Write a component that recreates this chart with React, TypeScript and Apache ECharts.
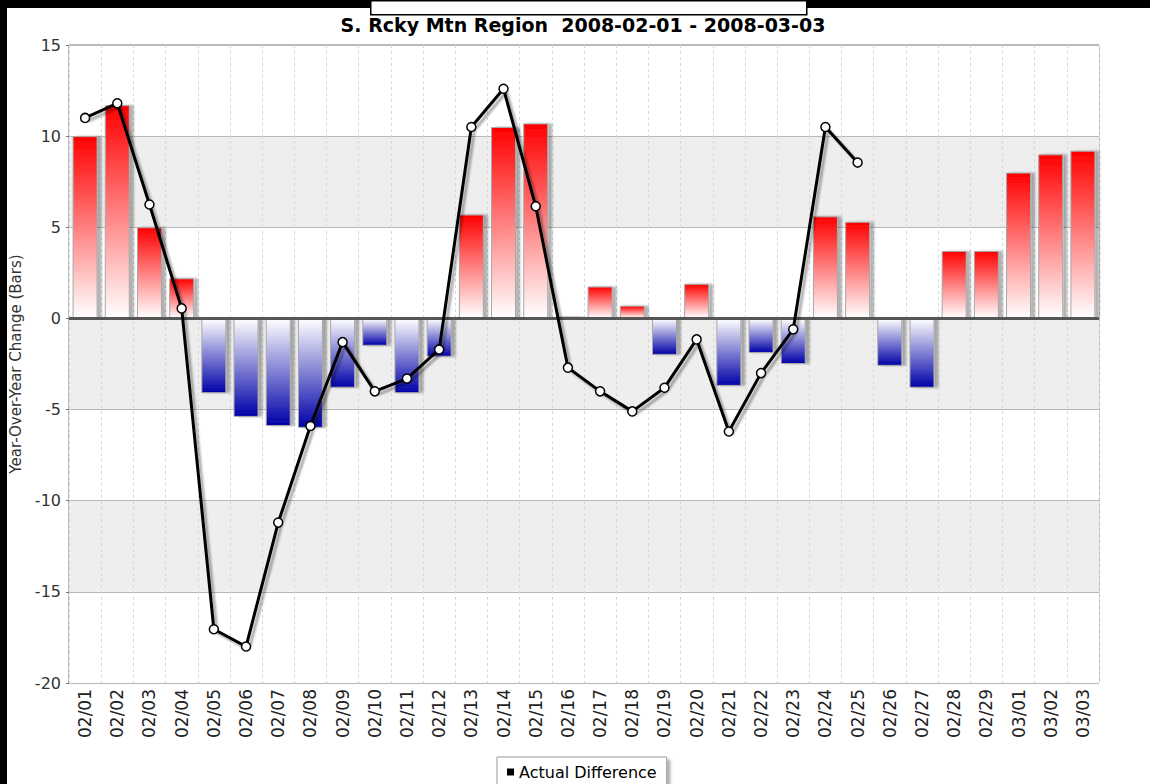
import React, { useEffect, useRef } from "react";
import * as echarts from "echarts";

const categories = [
  "02/01","02/02","02/03","02/04","02/05","02/06","02/07","02/08","02/09","02/10",
  "02/11","02/12","02/13","02/14","02/15","02/16","02/17","02/18","02/19","02/20",
  "02/21","02/22","02/23","02/24","02/25","02/26","02/27","02/28","02/29","03/01",
  "03/02","03/03",
];

const barValues = [
  10.0, 11.7, 5.0, 2.2, -4.1, -5.4, -5.9, -6.0, -3.8, -1.5,
  -4.1, -2.1, 5.7, 10.5, 10.7, 0.1, 1.75, 0.7, -2.0, 1.9,
  -3.7, -1.9, -2.5, 5.6, 5.3, -2.6, -3.8, 3.7, 3.7, 8.0,
  9.0, 9.2,
];

const lineValues: (number | null)[] = [
  11.0, 11.8, 6.25, 0.55, -17.05, -18.0, -11.2, -5.9, -1.3, -4.0,
  -3.3, -1.7, 10.5, 12.6, 6.15, -2.7, -4.0, -5.1, -3.8, -1.15,
  -6.2, -3.0, -0.6, 10.5, 8.55, null, null, null, null, null,
  null, null,
];

const yTicks = { min: -20, max: 15, interval: 5 };

const titleText = "S. Rcky Mtn Region  2008-02-01 - 2008-03-03";
const yAxisName = "Year-Over-Year Change (Bars)";
const legendName = "Actual Difference";

const FONT = "'DejaVu Sans', Verdana, sans-serif";

export default function App() {
  const ref = useRef<HTMLDivElement>(null);

  useEffect(() => {
    document.body.style.margin = "0";
    if (!ref.current) return;
    const chart = echarts.init(ref.current, null, { renderer: "svg" });

    const barData = barValues.map((v) => ({
      value: v,
      itemStyle: {
        color: new echarts.graphic.LinearGradient(0, 0, 0, 1,
          v >= 0
            ? [
                { offset: 0, color: "#ff0000" },
                { offset: 1, color: "#ffffff" },
              ]
            : [
                { offset: 0, color: "#ffffff" },
                { offset: 1, color: "#0000a8" },
              ]),
      },
    }));

    chart.setOption({
      animation: false,
      backgroundColor: "#ffffff",
      grid: { left: 68, right: 51, top: 45, bottom: 101, show: true, borderColor: "#777777", borderWidth: 1, backgroundColor: "transparent" },
      graphic: [
        { type: "rect", left: 0, top: 0, shape: { width: 7, height: 784 }, style: { fill: "#000" }, z: 100 },
        { type: "rect", left: 0, top: 0, shape: { width: 1150, height: 8 }, style: { fill: "#000" }, z: 100 },
        { type: "rect", left: 370, top: 0, shape: { width: 436, height: 14 }, style: { fill: "#fff", stroke: "#000", lineWidth: 1.5 }, z: 101 },
        {
          type: "text",
          x: 583,
          y: 25,
          style: { text: titleText, font: `bold 19px ${FONT}`, fill: "#000", textAlign: "center", textVerticalAlign: "middle" },
          z: 100,
        },
      ],
      legend: {
        data: [{ name: legendName, icon: "rect", itemStyle: { color: "#000000", borderWidth: 0 } }],
        left: 497,
        top: 757,
        itemWidth: 7,
        itemHeight: 7,
        itemGap: 4,
        padding: [7, 10, 10, 10],
        borderColor: "#999",
        borderWidth: 1,
        backgroundColor: "#fff",
        shadowColor: "rgba(0,0,0,0.35)",
        shadowOffsetX: 3,
        shadowOffsetY: 3,
        shadowBlur: 3,
        textStyle: { fontFamily: FONT, fontSize: 16, color: "#000" },
      },
      xAxis: {
        type: "category",
        data: categories,
        boundaryGap: true,
        axisLine: { show: false },
        axisTick: { show: false },
        axisLabel: { rotate: 90, fontFamily: FONT, fontSize: 17, color: "#222", margin: 6, interval: 0 },
        splitLine: { show: true, interval: 0, lineStyle: { color: "#d8d8d8", type: [3, 3], width: 1 } },
      },
      yAxis: {
        type: "value",
        min: yTicks.min,
        max: yTicks.max,
        interval: yTicks.interval,
        name: yAxisName,
        nameLocation: "middle",
        nameGap: 46,
        nameTextStyle: { fontFamily: FONT, fontSize: 15, color: "#333" },
        axisLine: { show: false },
        axisTick: { show: true, length: 3, lineStyle: { color: "#777" } },
        axisLabel: { fontFamily: FONT, fontSize: 16, color: "#333", margin: 8 },
        splitLine: { show: true, lineStyle: { color: "#b8b8b8", width: 1 } },
        splitArea: { show: true, areaStyle: { color: ["#ffffff", "#eeeeee"] } },
      },
      series: [
        {
          name: "Bars",
          type: "bar",
          data: barData,
          barWidth: 25,
          itemStyle: {
            borderColor: "#a8a8a8",
            borderWidth: 1,
            shadowColor: "rgba(0,0,0,0.3)",
            shadowOffsetX: 4,
            shadowOffsetY: 0,
            shadowBlur: 2,
          },
          markLine: {
            silent: true,
            symbol: "none",
            label: { show: false },
            lineStyle: { color: "#555555", width: 3, type: "solid" },
            data: [{ yAxis: 0 }],
          },
          z: 2,
        },
        {
          name: legendName,
          type: "line",
          data: lineValues,
          connectNulls: false,
          symbol: "circle",
          symbolSize: 9,
          itemStyle: { color: "#ffffff", borderColor: "#000000", borderWidth: 1.5 },
          lineStyle: { color: "#000000", width: 3, shadowColor: "rgba(0,0,0,0.35)", shadowOffsetX: 3, shadowOffsetY: 3, shadowBlur: 2 },
          z: 5,
        },
      ],
    });

    return () => chart.dispose();
  }, []);

  return <div ref={ref} style={{ width: 1150, height: 784 }} />;
}
